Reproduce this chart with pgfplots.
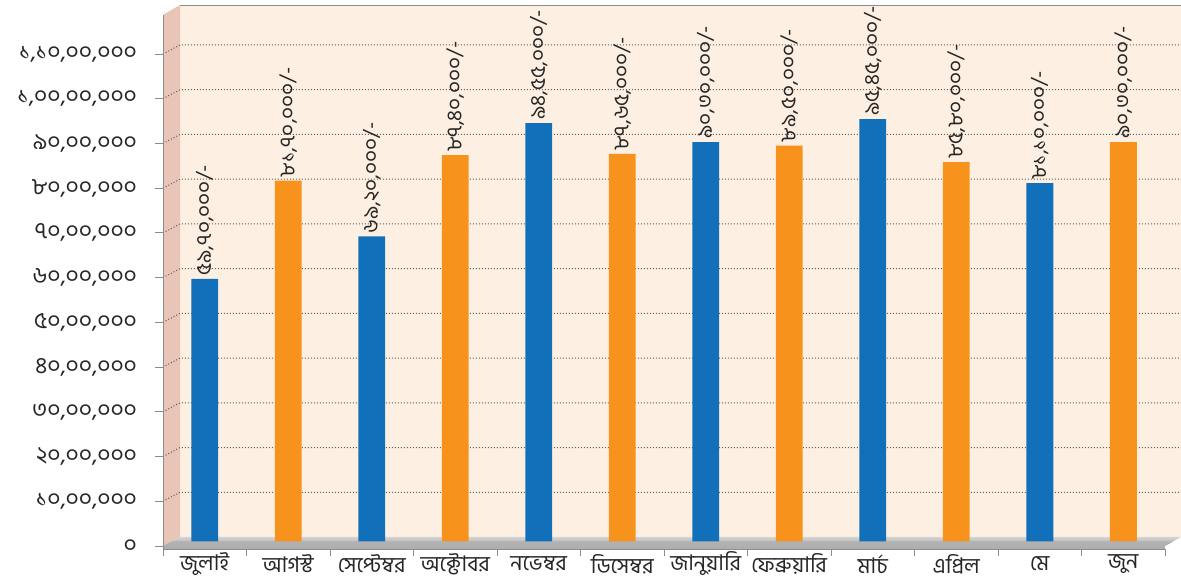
\documentclass[border=0pt]{standalone}
\usepackage{pgfplots}
\pgfplotsset{compat=1.18}
\usepackage{fontspec}
\newfontfamily\bn[Script=Bengali]{Hind Siliguri}
\definecolor{wallback}{HTML}{FDEFE1}
\definecolor{wallleft}{HTML}{E8C5B7}
\definecolor{barblue}{HTML}{1170B9}
\definecolor{barorange}{HTML}{F7931D}
\definecolor{floorA}{HTML}{D4D4D4}
\definecolor{floorB}{HTML}{A8A8A8}
\definecolor{gridc}{HTML}{606060}
\definecolor{axisc}{HTML}{8C8C8C}
\begin{document}
\begin{tikzpicture}
\useasboundingbox (-81.5pt,-17.5pt) rectangle (509pt,273pt);
% background (pixel coordinates)
\begin{scope}[x=0.5pt,y=-0.5pt,shift={(-81.5pt,273pt)}]
\fill[wallback] (180,5) rectangle (1181,537);
\draw[axisc] (180,5) -- (1181,5);
\fill[wallleft] (163,15) -- (180,5) -- (180,537) -- (163,546) -- cycle;
\foreach \k in {1,...,11}{
  \pgfmathsetmacro\yy{546-44.727*\k}
  \draw[gridc,densely dotted,line width=0.5pt] (163,\yy) -- (180,\yy-9) -- (1181,\yy-9);
}
\shade[top color=floorA,bottom color=floorB] (163,546) -- (180,537) -- (1181,537) -- (1165,546) -- cycle;
\end{scope}
\begin{axis}[at={(0,0)},anchor=south west,scale only axis,
  width=501pt,height=270.5pt,
  xmin=-0.5,xmax=11.5,ymin=0,ymax=120.95,
  axis line style={draw=none},tick style={draw=none},
  clip=false,
  ytick={0,10,...,110},
  yticklabels={০,{১০,০০,০০০},{২০,০০,০০০},{৩০,০০,০০০},{৪০,০০,০০০},{৫০,০০,০০০},{৬০,০০,০০০},{৭০,০০,০০০},{৮০,০০,০০০},{৯০,০০,০০০},{১,০০,০০,০০০},{১,১০,০০,০০০}},
  xtick={0,...,11},
  xticklabels={জুলাই,আগস্ট,সেপ্টেম্বর,অক্টোবর,নভেম্বর,ডিসেম্বর,জানুয়ারি,ফেব্রুয়ারি,মার্চ,এপ্রিল,মে,জুন},
  ticklabel style={font=\bn\fontsize{11.5}{12}\selectfont,text=black!85},
  yticklabel style={anchor=east,xshift=-9.5pt},
  xticklabel style={anchor=center,yshift=-9pt,font=\bn\fontsize{10.8}{11}\selectfont},
  nodes near coords style={rotate=90,anchor=west,font=\bn\fontsize{10.5}{11}\selectfont,text=black!85,inner sep=1.5pt},
]
\addplot[ybar,bar shift=0pt,bar width=0.323,fill=barblue,draw=none,
  nodes near coords,point meta=explicit symbolic] coordinates {
  (0,59.7) [৫৯,৭০,০০০/-]
  (2,69.2) [৬৯,২০,০০০/-]
  (4,94.55) [৯৪,৫৫,০০০/-]
  (6,90.3) [৯০,৩০,০০০/-]
  (8,95.45) [৯৫,৪৫,০০০/-]
  (10,81.1) [৮১,১০,০০০/-]
};
\addplot[ybar,bar shift=0pt,bar width=0.323,fill=barorange,draw=none,
  nodes near coords,point meta=explicit symbolic] coordinates {
  (1,81.7) [৮১,৭০,০০০/-]
  (3,87.4) [৮৭,৪০,০০০/-]
  (5,87.65) [৮৭,৬৫,০০০/-]
  (7,89.5) [৮৯,৫০,০০০/-]
  (9,85.8) [৮৫,৮০,০০০/-]
  (11,90.3) [৯০,৩০,০০০/-]
};
\end{axis}
\begin{scope}[x=0.5pt,y=-0.5pt,shift={(-81.5pt,273pt)}]
\fill[floorB!80!floorA] (163,546) -- (171.5,541.5) -- (1173,541.5) -- (1165,546) -- cycle;
\fill[axisc!70] (163,546) rectangle (1165,549);
\draw[axisc] (163,15) -- (163,549);
\draw[axisc] (163,549) -- (1165,549);
\foreach \k in {0,...,12}{
  \draw[axisc] (163+83.5*\k,549) -- (163+83.5*\k,556);
}
\foreach \k in {0,...,11}{
  \pgfmathsetmacro\yy{546-44.727*\k}
  \draw[axisc] (155,\yy) -- (163,\yy);
}
\end{scope}
\end{tikzpicture}
\end{document}
